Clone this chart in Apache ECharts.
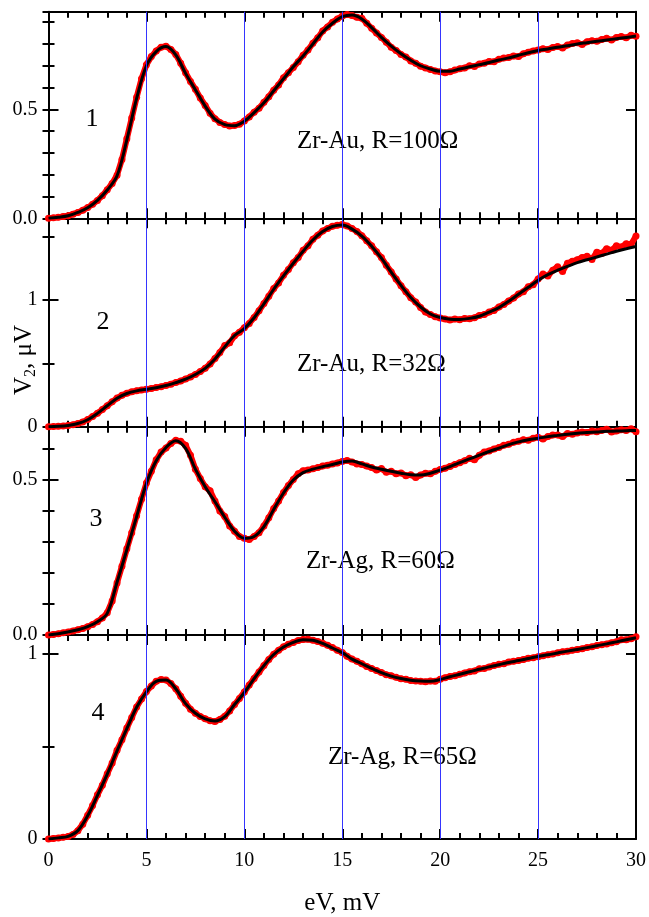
<!DOCTYPE html>
<html><head><meta charset="utf-8">
<script src="https://cdn.jsdelivr.net/npm/echarts@6/dist/echarts.min.js"></script>
<style>html,body{margin:0;padding:0;background:#fff}#c{width:649px;height:917px}</style>
</head><body><div id="c"></div>
<script>
// ---------- data ----------
const xMin = 0, xMax = 30;
const xMajorStep = 5, xMinorSplit = 5;
const blueLinesX = [5, 10, 15, 20, 25];
const dataStep = 0.25;   // measured points every 0.25 mV
const fitStep = 0.5;     // fitted curve sampled every 0.5 mV
const panelNames = ['1', '2', '3', '4'];
const panelNotes = ['Zr-Au, R=100Ω', 'Zr-Au, R=32Ω', 'Zr-Ag, R=60Ω', 'Zr-Ag, R=65Ω'];
const yMax = [0.948, 1.645, 0.672, 1.10];
const yMajorTicks = [[0, 0.5], [0, 1], [0, 0.5], [0, 1]];
const yTickLabels = [['0.0', '0.5'], ['0', '1'], ['0.0', '0.5'], ['0', '1']];
const yMajorStep = [0.5, 1, 0.5, 1];
const yMinorStep = [0.1, 0.5, 0.1, 0.5];
const xLabel = 'eV, mV';

const data1 = [
0.000,0.002,0.005,0.008,0.012,0.019,0.027,0.037,0.049,0.064,
0.082,0.104,0.131,0.160,0.198,0.270,0.365,0.460,0.555,0.640,
0.705,0.742,0.768,0.785,0.790,0.775,0.752,0.712,0.668,0.628,
0.592,0.552,0.518,0.482,0.457,0.440,0.430,0.424,0.426,0.432,
0.447,0.465,0.487,0.505,0.532,0.558,0.588,0.612,0.645,0.668,
0.692,0.718,0.748,0.772,0.803,0.828,0.860,0.878,0.900,0.915,
0.928,0.935,0.930,0.922,0.918,0.895,0.872,0.850,0.830,0.808,
0.785,0.770,0.752,0.740,0.722,0.712,0.698,0.690,0.683,0.676,
0.672,0.668,0.672,0.680,0.686,0.690,0.700,0.697,0.708,0.712,
0.720,0.718,0.730,0.735,0.738,0.745,0.742,0.755,0.762,0.768,
0.772,0.778,0.775,0.784,0.788,0.782,0.795,0.802,0.805,0.798,
0.810,0.815,0.812,0.820,0.826,0.818,0.830,0.834,0.828,0.840,
0.835];
const fit1 = [
0.000,0.005,0.012,0.027,0.048,0.082,0.130,0.195,0.360,0.550,
0.700,0.765,0.788,0.750,0.665,0.590,0.515,0.455,0.430,0.425,
0.445,0.485,0.530,0.585,0.640,0.695,0.745,0.800,0.855,0.895,
0.925,0.933,0.915,0.875,0.830,0.790,0.755,0.725,0.700,0.685,
0.675,0.675,0.685,0.695,0.705,0.715,0.726,0.736,0.748,0.760,
0.770,0.777,0.785,0.792,0.800,0.806,0.812,0.818,0.824,0.830,
0.836];

const data2 = [
0.000,0.001,0.003,0.006,0.010,0.016,0.025,0.038,0.056,0.080,
0.106,0.135,0.166,0.196,0.226,0.248,0.264,0.275,0.284,0.290,
0.296,0.301,0.309,0.316,0.326,0.336,0.349,0.360,0.377,0.393,
0.413,0.435,0.462,0.495,0.538,0.585,0.640,0.662,0.718,0.745,
0.782,0.815,0.862,0.915,0.972,1.030,1.090,1.135,1.195,1.240,
1.295,1.335,1.392,1.428,1.480,1.512,1.545,1.565,1.582,1.590,
1.596,1.585,1.565,1.540,1.508,1.468,1.428,1.380,1.335,1.275,
1.222,1.165,1.112,1.065,1.018,0.985,0.940,0.905,0.885,0.868,
0.858,0.850,0.842,0.850,0.845,0.855,0.852,0.860,0.878,0.885,
0.905,0.918,0.945,0.965,0.992,1.015,1.048,1.065,1.105,1.120,
1.165,1.205,1.190,1.235,1.262,1.225,1.290,1.305,1.318,1.335,
1.345,1.320,1.378,1.368,1.405,1.392,1.428,1.418,1.445,1.440,
1.505];
const fit2 = [
0.000,0.003,0.010,0.025,0.055,0.105,0.165,0.225,0.262,0.283,
0.295,0.308,0.325,0.348,0.375,0.412,0.460,0.535,0.630,0.720,
0.775,0.860,0.970,1.085,1.190,1.290,1.385,1.474,1.540,1.580,
1.592,1.560,1.505,1.425,1.330,1.220,1.115,1.020,0.945,0.890,
0.862,0.849,0.847,0.855,0.872,0.905,0.940,0.990,1.045,1.100,
1.155,1.200,1.235,1.265,1.295,1.318,1.340,1.362,1.385,1.405,
1.422];

const data3 = [
0.000,0.002,0.004,0.007,0.010,0.013,0.017,0.021,0.027,0.034,
0.043,0.055,0.072,0.110,0.168,0.222,0.278,0.330,0.385,0.438,
0.490,0.528,0.565,0.590,0.603,0.618,0.628,0.625,0.612,0.580,
0.535,0.505,0.478,0.465,0.432,0.400,0.382,0.352,0.335,0.318,
0.312,0.308,0.318,0.330,0.352,0.378,0.408,0.432,0.460,0.482,
0.502,0.520,0.530,0.532,0.536,0.540,0.545,0.548,0.552,0.555,
0.560,0.563,0.558,0.552,0.550,0.545,0.540,0.532,0.537,0.525,
0.528,0.520,0.523,0.514,0.517,0.508,0.516,0.522,0.520,0.528,
0.534,0.538,0.544,0.550,0.556,0.562,0.570,0.565,0.580,0.590,
0.594,0.600,0.605,0.612,0.615,0.622,0.625,0.630,0.628,0.635,
0.638,0.632,0.640,0.645,0.645,0.640,0.650,0.648,0.652,0.655,
0.653,0.658,0.656,0.660,0.664,0.655,0.658,0.662,0.660,0.665,
0.656];
const fit3 = [
0.000,0.004,0.010,0.017,0.027,0.043,0.070,0.170,0.275,0.382,
0.489,0.562,0.605,0.627,0.602,0.535,0.478,0.430,0.380,0.335,
0.312,0.318,0.350,0.405,0.458,0.500,0.524,0.535,0.543,0.550,
0.558,0.561,0.552,0.542,0.535,0.528,0.522,0.517,0.516,0.522,
0.532,0.543,0.556,0.568,0.580,0.592,0.603,0.614,0.623,0.630,
0.635,0.640,0.644,0.648,0.651,0.653,0.655,0.657,0.658,0.659,
0.660];

const data4 = [
0.000,0.003,0.006,0.009,0.014,0.024,0.045,0.080,0.128,0.180,
0.238,0.290,0.352,0.410,0.478,0.535,0.598,0.655,0.712,0.755,
0.795,0.825,0.850,0.860,0.858,0.838,0.810,0.770,0.732,0.700,
0.678,0.660,0.648,0.638,0.634,0.645,0.662,0.690,0.725,0.758,
0.792,0.830,0.866,0.900,0.935,0.968,0.996,1.018,1.036,1.050,
1.060,1.070,1.076,1.077,1.072,1.065,1.056,1.045,1.032,1.018,
1.005,0.985,0.970,0.958,0.945,0.930,0.920,0.908,0.898,0.886,
0.880,0.872,0.864,0.862,0.854,0.852,0.850,0.848,0.852,0.850,
0.862,0.870,0.876,0.880,0.888,0.895,0.902,0.906,0.918,0.920,
0.928,0.935,0.942,0.945,0.955,0.958,0.963,0.968,0.975,0.978,
0.983,0.988,0.994,0.998,1.004,1.010,1.013,1.018,1.022,1.026,
1.032,1.036,1.043,1.048,1.052,1.058,1.064,1.075,1.074,1.080,
1.090];
const fit4 = [
0.000,0.006,0.014,0.045,0.125,0.235,0.350,0.475,0.595,0.710,
0.793,0.850,0.857,0.810,0.730,0.678,0.648,0.636,0.660,0.725,
0.790,0.865,0.935,0.995,1.035,1.060,1.075,1.072,1.055,1.030,
1.005,0.970,0.945,0.920,0.897,0.878,0.865,0.856,0.852,0.851,
0.860,0.875,0.888,0.902,0.915,0.928,0.940,0.952,0.962,0.973,
0.984,0.993,1.003,1.013,1.022,1.032,1.042,1.052,1.063,1.074,
1.085];

const measured = [data1, data2, data3, data4];
const fitted = [fit1, fit2, fit3, fit4];

// ---------- layout ----------
const FONT = '"Liberation Serif", "Times New Roman", serif';
const gridLeft = 48.5, gridWidth = 587.5;
const edges = [11.7, 218.3, 426.7, 635, 842.3];
const toPairs = (arr, step) => arr.map((v, i) => [+(i * step).toFixed(3), v]);

const grids = [], xAxes = [], yAxes = [], series = [];
for (let p = 0; p < 4; p++) {
  grids.push({ left: gridLeft, width: gridWidth, top: edges[p], height: edges[p + 1] - edges[p], containLabel: false });
  ['bottom', 'top'].forEach((pos) => {
    xAxes.push({
      type: 'value', gridIndex: p, position: pos, min: xMin, max: xMax, interval: xMajorStep,
      axisLine: { show: true, onZero: false, lineStyle: { color: '#000', width: 2 } },
      axisTick: { show: true, inside: true, length: 10, lineStyle: { color: '#000', width: 2 } },
      minorTick: { show: true, splitNumber: xMinorSplit, length: 6, lineStyle: { color: '#000', width: 2 } },
      splitLine: { show: false },
      axisLabel: { show: p === 3 && pos === 'bottom', margin: 12, color: '#000', fontFamily: FONT, fontSize: 20 },
      name: (p === 3 && pos === 'bottom') ? xLabel : '',
      nameLocation: 'middle', nameGap: 52,
      nameTextStyle: { color: '#000', fontFamily: FONT, fontSize: 25 }
    });
  });
  const fmt = (v) => {
    const k = yMajorTicks[p].findIndex(t => Math.abs(t - v) < 1e-6);
    return k >= 0 ? yTickLabels[p][k] : '';
  };
  ['left', 'right'].forEach((pos) => {
    yAxes.push({
      type: 'value', gridIndex: p, position: pos, min: 0, max: yMax[p], interval: yMajorStep[p],
      axisLine: { show: true, onZero: false, lineStyle: { color: '#000', width: 2 } },
      axisTick: { show: true, inside: true, length: 10, lineStyle: { color: '#000', width: 2 } },
      splitLine: { show: false },
      axisLabel: { show: pos === 'left', formatter: fmt, margin: 11, color: '#000', fontFamily: FONT, fontSize: 20,
        showMaxLabel: false }
    });
    yAxes.push({
      type: 'value', gridIndex: p, position: pos, min: 0, max: yMax[p], interval: yMinorStep[p],
      axisLine: { show: false },
      axisTick: { show: true, inside: true, length: 6, lineStyle: { color: '#000', width: 2 } },
      splitLine: { show: false },
      axisLabel: { show: false }
    });
  });
  const xi = p * 2, yi = p * 4;
  series.push({
    type: 'line', xAxisIndex: xi, yAxisIndex: yi, data: toPairs(fitted[p], fitStep),
    showSymbol: false, lineStyle: { opacity: 0 }, silent: true, z: 1,
    markLine: {
      silent: true, symbol: 'none', label: { show: false },
      lineStyle: { color: '#3535ff', width: 1, type: 'solid' },
      data: blueLinesX.map(x => ({ xAxis: x }))
    }
  });
  series.push({
    type: 'line', xAxisIndex: xi, yAxisIndex: yi, data: toPairs(measured[p], dataStep),
    symbol: 'circle', symbolSize: 7, showSymbol: true,
    itemStyle: { color: '#ff0000' }, lineStyle: { color: '#ff0000', width: 6 }, z: 2
  });
  series.push({
    type: 'line', xAxisIndex: xi, yAxisIndex: yi, data: toPairs(fitted[p], fitStep),
    smooth: 0.35, showSymbol: false, lineStyle: { color: '#000', width: 3 }, z: 3
  });
}

const numPos = [[92, 119], [103, 322], [96, 519], [98, 713]];
const notePos = [[297, 141], [297, 364], [306, 561], [328, 757]];
const graphics = [];
for (let p = 0; p < 4; p++) {
  graphics.push({ type: 'text', x: numPos[p][0], y: numPos[p][1],
    style: { text: panelNames[p], fill: '#000', font: '26px ' + FONT, textAlign: 'center', textVerticalAlign: 'middle' } });
  graphics.push({ type: 'text', x: notePos[p][0], y: notePos[p][1],
    style: { text: panelNotes[p], fill: '#000', font: '25px ' + FONT, textAlign: 'left', textVerticalAlign: 'middle' } });
}
graphics.push({ type: 'text', x: 24, y: 360, rotation: Math.PI / 2,
  style: { text: '{a|V}{s|2}{a|, μV}', fill: '#000', textAlign: 'center', textVerticalAlign: 'middle',
    rich: { a: { fontFamily: FONT, fontSize: 25, fill: '#000' }, s: { fontFamily: FONT, fontSize: 16, fill: '#000', padding: [13, 0, 0, 0] } } } });

const chart = echarts.init(document.getElementById('c'), null, { renderer: 'canvas' });
chart.setOption({
  animation: false,
  backgroundColor: '#fff',
  grid: grids, xAxis: xAxes, yAxis: yAxes, series: series, graphic: graphics
});
</script></body></html>
